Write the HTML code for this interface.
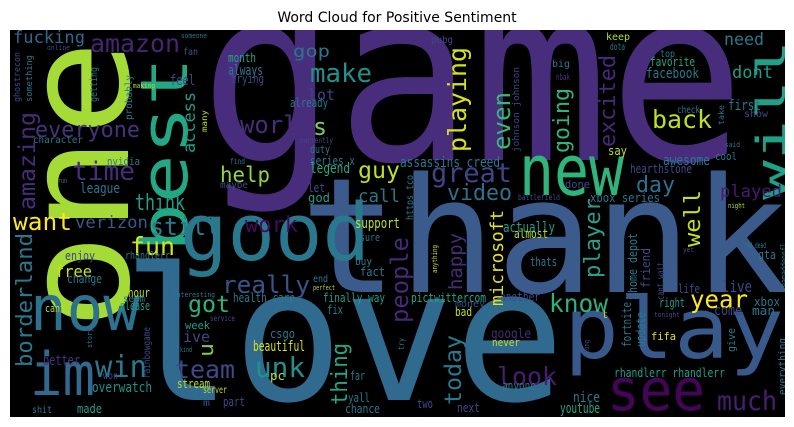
<!DOCTYPE html>
<html><head><meta charset="utf-8">
<style>
html,body{margin:0;padding:0;background:#fff;width:794px;height:427px;overflow:hidden}
svg{display:block;overflow:hidden}
text{font-family:"DejaVu Sans Mono","Liberation Mono",monospace}
</style></head>
<body>
<svg id="cloud" width="794" height="427" viewBox="0 0 794 427" xmlns="http://www.w3.org/2000/svg">
<text x="397" y="22" text-anchor="middle" font-size="14" fill="#000" style="font-family:'DejaVu Sans','Liberation Sans',sans-serif">Word Cloud for Positive Sentiment</text>
<defs><clipPath id="clip"><rect x="10" y="30" width="775" height="387"/></clipPath></defs>
<rect x="10" y="30" width="775" height="387" fill="#000"/>
<g id="words" clip-path="url(#clip)"></g>
</svg>
<script>
// word, x, y, font size, color, rotated, length
const words = [
["game",200,160,240,"#472d7b",0,545],
["thank",300,292,160,"#3b5b8c",0,490],
["love",122,400,185,"#306a8e",0,443],
["one",128,330,145,"#a5db36",1,290],
["best",187,252,65,"#22a884",1,195],
["will",785,200,40,"#1fa187",1,160],
["new",519,195,70,"#2fb47c",0,105],
["play",564,358,85,"#38598c",0,220],
["good",180,260,79,"#2a788e",0,190],
["now",30,330,62,"#2c718e",0,110],
["im",30,395,60,"#306a8e",0,65],
["see",607,410,58,"#450457",0,98],
["much",717,410,27,"#481f70",0,60],
["look",497,385,25,"#481f70",0,60],
["today",461,405,23,"#2a788e",1,70],
["know",549,312,25,"#2db27d",0,59],
["year",690,308,25,"#fde725",0,58],
["great",431,182,27,"#414487",0,81],
["video",447,200,22,"#2c728e",0,65],
["day",636,192,22,"#2c728e",0,39],
["played",720,197,17,"#481c6e",0,62],
["back",652,128,25,"#bddf26",0,60],
["playing",466,152,25,"#d8e219",1,105],
["even",510,150,24,"#35b779",1,58],
["going",569,153,22,"#2fb47c",1,65],
["excited",615,147,22,"#482878",1,92],
["need",724,45,17,"#29798e",0,40],
["dont",732,78,17,"#1f9e89",0,41],
["fun",130,255,25,"#d2e21b",0,45],
["free",55,277,16,"#c8e020",0,37],
["still",150,235,24,"#287c8e",0,70],
["work",245,232,22,"#450a5c",0,53],
["want",13,230,24,"#fde725",0,59],
["verizon",75,228,17,"#38598c",0,73],
["really",222,293,24,"#3b528b",0,88],
["got",188,312,23,"#2db27d",0,42],
["win",95,377,30,"#2a788e",0,52],
["team",175,378,25,"#3e4a89",0,60],
["unk",255,377,28,"#21918c",0,50],
["thing",347,405,22,"#22a884",1,62],
["borderland",32,367,22,"#2a788e",1,134],
["time",72,180,26,"#472d7b",0,63],
["help",220,182,21,"#8fd744",0,50],
["guy",358,178,23,"#bddf26",0,42],
["call",358,202,18,"#2a788e",0,42],
["world",240,133,24,"#472d7b",0,72],
["everyone",35,137,22,"#46337e",0,105],
["amazon",90,52,25,"#482475",0,90],
["make",310,82,26,"#21918c",0,62],
["amazing",35,210,23,"#472c7a",1,98],
["access",195,153,17,"#1f9e89",1,61],
["fucking",13,43,17,"#30698e",0,72],
["happy",462,290,19,"#472c7a",1,57],
["microsoft",503,306,18,"#e2e418",1,96],
["player",600,278,22,"#2a9d8c",1,80],
["well",700,247,22,"#c2df23",1,57],
["people",408,323,24,"#482878",1,86],
["google",491,338,13,"#472c7a",0,40],
["fifa",651,340,11,"#e5e419",0,25],
["lot",308,100,15,"#414487",0,27],
["gop",293,57,17,"#2a788e",0,37],
["s",313,135,24,"#7ad151",0,14],
["u",213,357,20,"#7ad151",1,14],
["ive",183,342,15,"#414487",0,27],
["character",33,143,10,"#2a788e",0,50],
["ghostrecon",20,102,9,"#3e4a89",1,50],
["something",32,102,9,"#2a788e",1,47],
["online",47,50,7,"#3e4a89",0,23],
["someone",181,38,7,"#2a788e",0,26],
["fan",183,55,10,"#3b528b",0,15],
["feel",170,85,14,"#414487",0,25],
["making",133,88,7,"#b5de2b",0,22],
["probably",132,120,10,"#2a788e",1,45],
["getting",97,102,10,"#2a788e",1,35],
["many",207,132,8,"#bddf26",1,22],
["month",228,62,12,"#22a884",0,28],
["always",228,75,14,"#2a788e",0,35],
["trying",231,83,12,"#3e4a89",0,33],
["already",290,107,12,"#2a788e",0,38],
["currently",300,143,8,"#3e4a89",0,33],
["duty",310,153,11,"#2a788e",0,20],
["series x",310,165,12,"#2a788e",0,45],
["legend",310,173,14,"#22a884",0,40],
["let",308,192,12,"#3e4a89",0,17],
["god",308,202,12,"#1f9e89",0,22],
["find",230,164,8,"#2a788e",0,15],
["maybe",220,188,10,"#3e4a89",0,28],
["nvidia",107,165,11,"#2a788e",0,33],
["run",58,183,7,"#2a788e",0,9],
["league",80,193,14,"#2a788e",0,40],
["think",135,210,22,"#1f9e89",0,50],
["pubg",431,43,10,"#3e4a89",0,22],
["keep",606,40,10,"#b5de2b",0,24],
["dota",610,50,10,"#2a788e",0,15],
["top",660,57,10,"#2a788e",0,15],
["favorite",650,66,12,"#22a884",0,45],
["facebook",646,78,14,"#2a788e",0,53],
["big",552,67,10,"#2a788e",0,18],
["nbak",556,80,9,"#46337e",0,14],
["johnson johnson",519,152,9,"#414487",1,85],
["check",677,113,10,"#2a788e",0,23],
["take",724,125,8,"#2a788e",1,20],
["first",728,110,14,"#2a788e",0,33],
["show",744,117,10,"#3e4a89",0,24],
["said",725,147,7,"#2a788e",0,15],
["cool",715,160,11,"#2a788e",0,22],
["say",608,155,12,"#bddf26",0,19],
["awesome",663,165,14,"#2a788e",0,47],
["hearthstone",630,173,12,"#3e4a89",0,62],
["assassins creed",400,167,14,"#2a788e",0,100],
["done",565,188,11,"#3e4a89",0,25],
["xbox series",590,202,12,"#2a788e",0,70],
["battlefield",518,200,8,"#3e4a89",0,42],
["night",728,208,7,"#b5de2b",0,17],
["https tco",413,220,10,"#2a788e",1,45],
["enjoy",65,260,12,"#414487",0,30],
["change",67,283,12,"#2a788e",0,35],
["rhandlerr",125,259,11,"#2a788e",0,45],
["hour",128,297,12,"#bddf26",0,22],
["seem",123,302,10,"#2a788e",0,22],
["please",120,310,12,"#1f9e89",0,30],
["cant",45,312,11,"#bddf26",0,20],
["interesting",173,297,7,"#2a788e",0,42],
["health care",233,302,12,"#2a788e",0,62],
["end",313,282,10,"#2a788e",0,15],
["perfect",313,290,7,"#b5de2b",0,22],
["finally way",323,302,12,"#1f9e89",0,62],
["fix",327,314,12,"#2a788e",0,16],
["support",355,228,14,"#bddf26",0,45],
["sure",360,241,11,"#2a788e",0,20],
["buy",355,265,11,"#2a788e",0,17],
["fact",360,276,12,"#2a788e",0,25],
["service",210,321,8,"#3e4a89",0,25],
["week",185,329,11,"#1f9e89",0,25],
["csgo",270,338,12,"#2a788e",0,25],
["beautiful",253,351,14,"#d8e219",0,52],
["story",92,348,7,"#2a788e",1,20],
["rainbowgame",150,378,10,"#3e4a89",1,51],
["kind",180,352,7,"#2a788e",0,12],
["better",43,365,14,"#46337e",0,37],
["won",103,379,10,"#3e4a89",0,15],
["overwatch",92,392,14,"#21918c",0,60],
["stream",177,388,12,"#bddf26",0,33],
["server",203,393,10,"#bddf26",0,24],
["pc",270,380,12,"#bddf26",0,15],
["far",350,380,12,"#2a788e",0,15],
["yall",348,402,12,"#2a788e",0,22],
["chance",345,413,12,"#2a788e",0,35],
["part",223,406,12,"#3e4a89",0,22],
["m",203,406,10,"#3e4a89",0,7],
["made",77,413,12,"#1f9e89",0,25],
["shit",32,413,10,"#2a788e",0,20],
["actually",503,232,14,"#1f9e89",0,52],
["almost",514,238,12,"#bddf26",0,34],
["thats",530,266,12,"#2a788e",0,27],
["home depot",637,293,12,"#2a788e",1,60],
["friend",650,288,12,"#3e4a89",1,40],
["cant wait",664,300,10,"#414487",1,38],
["life",678,293,12,"#3e4a89",0,22],
["live",722,292,16,"#3e4a89",0,30],
["come",714,315,14,"#414487",0,28],
["right",659,307,12,"#1f9e89",0,26],
["tonight",654,317,7,"#3e4a89",0,26],
["t",602,318,10,"#bddf26",0,6],
["red dead",744,248,8,"#2a788e",0,22],
["yet",683,252,7,"#3e4a89",0,11],
["gta",758,259,12,"#2a788e",0,18],
["eamaddennfl",787,287,9,"#2a788e",1,44],
["xbox",754,306,12,"#2a788e",0,26],
["man",752,315,12,"#2a788e",0,23],
["pictwittercom",411,302,12,"#22a884",0,75],
["another",500,301,12,"#3e4a89",0,40],
["money",455,307,10,"#3e4a89",0,30],
["bad",455,316,12,"#bddf26",0,17],
["anything",437,273,7,"#bddf26",1,28],
["never",492,346,11,"#bddf26",0,28],
["fortnite",631,347,12,"#2a788e",1,45],
["update",645,347,12,"#2a788e",1,35],
["give",735,352,11,"#2a788e",1,24],
["long",589,353,7,"#3e4a89",1,13],
["try",404,350,8,"#2a788e",1,12],
["everything",786,395,11,"#2a788e",1,57],
["rhandlerr rhandlerr",614,377,12,"#1f9e89",0,111],
["anyone",502,390,12,"#2a788e",0,34],
["nice",573,402,14,"#2a788e",0,27],
["youtube",560,413,14,"#22a884",0,40],
["two",417,408,12,"#3e4a89",0,16],
["next",457,412,12,"#3e4a89",0,23]
];
const g = document.getElementById('words');
const NS = 'http://www.w3.org/2000/svg';
for (const w of words) {
  const t = document.createElementNS(NS, 'text');
  
  
  t.setAttribute('x', w[1]);
  t.setAttribute('y', w[2]);
  t.setAttribute('font-size', w[3]);
  t.setAttribute('fill', w[4]);
  t.setAttribute('textLength', w[6]);
  t.setAttribute('lengthAdjust', 'spacingAndGlyphs');
  if (w[5]) t.setAttribute('transform', 'rotate(-90 ' + w[1] + ' ' + w[2] + ')');
  t.textContent = w[0];
  g.appendChild(t);
}
</script>
</body></html>
